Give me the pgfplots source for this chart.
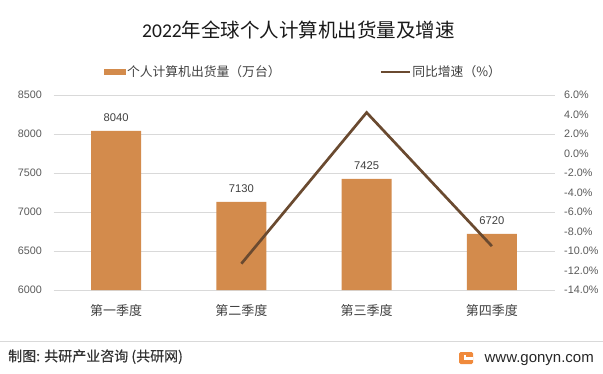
\documentclass[border=0pt]{standalone}
\usepackage{pgfplots}
\pgfplotsset{compat=1.18}
\usepackage{fontspec}
\setmainfont{Liberation Sans}
\newfontfamily\cjk{Noto Sans CJK SC}
\newfontfamily\cjkb[FakeBold=0.3]{Noto Sans CJK SC}
\newfontfamily\calfont{Carlito}
\definecolor{barc}{HTML}{D38B4C}
\definecolor{linec}{HTML}{6A4A30}
\definecolor{gridc}{HTML}{D9D9D9}
\definecolor{tickc}{HTML}{595959}
\definecolor{labc}{HTML}{404040}
\definecolor{logoc}{HTML}{F08A3C}
\begin{document}
\begin{tikzpicture}[x=1bp,y=1bp]
\path[use as bounding box] (0,0) rectangle (603,373);
\node[font=\fontsize{19.5bp}{23bp}\selectfont, text=black!90] at (298.5,343) {{\calfont 2022}{\cjk 年全球个人计算机出货量及增速}};
\begin{axis}[
  at={(53.5bp,83bp)}, anchor=south west, scale only axis,
  width=501bp, height=195bp,
  xmin=-0.5, xmax=3.5, ymin=6000, ymax=8500,
  ytick={6000,6500,7000,7500,8000,8500},
  yticklabels={6000,6500,7000,7500,8000,8500},
  xtick={0,1,2,3},
  xticklabels={第一季度,第二季度,第三季度,第四季度},
  axis line style={draw=none},
  major tick length=0pt,
  ymajorgrids, grid style={gridc, line width=0.9bp},
  yticklabel style={font=\fontsize{10.8bp}{12bp}\selectfont, text=tickc, inner sep=0pt, anchor=east, xshift=-11.5bp},
  xticklabel style={font=\cjk\fontsize{13bp}{15bp}\selectfont, text=labc, inner sep=0pt, anchor=north, yshift=-14.8bp},
  /pgf/number format/1000 sep={},
  /pgf/number format/assume math mode=true,
  legend columns=2,
  legend style={at={(0.1008,1.118)}, anchor=west, draw=none, fill=none, inner sep=0pt, outer sep=0pt,
    nodes={inner sep=1bp}, font=\cjk\fontsize{12.8bp}{14bp}\selectfont, text=labc,
    /tikz/every even column/.append style={column sep=98bp}},
]
\addplot[ybar, bar width=50bp, fill=barc, draw=none,
  nodes near coords, point meta=y,
  every node near coord/.append style={font=\fontsize{11.2bp}{12bp}\selectfont, text=labc, inner sep=0pt, anchor=south, yshift=9.5bp},
  legend image code/.code={\fill[barc] (0bp,-3.25bp) rectangle (22bp,3.25bp);}]
  coordinates {(0,8040) (1,7130) (2,7425) (3,6720)};
\addlegendentry{个人计算机出货量（万台）}
\addlegendimage{legend image code/.code={\draw[linec, line width=2.7bp] (0bp,0bp) -- (29bp,0bp);}}
\addlegendentry{同比增速（\%）}
\end{axis}
\begin{axis}[
  at={(53.5bp,83bp)}, anchor=south west, scale only axis,
  width=501bp, height=195bp,
  xmin=-0.5, xmax=3.5, ymin=-14, ymax=6,
  ytick={-14,-12,-10,-8,-6,-4,-2,0,2,4,6},
  yticklabels={-14.0\%,-12.0\%,-10.0\%,-8.0\%,-6.0\%,-4.0\%,-2.0\%,0.0\%,2.0\%,4.0\%,6.0\%},
  xtick=\empty,
  axis line style={draw=none},
  major tick length=0pt,
  ytick pos=right, yticklabel pos=right,
  yticklabel style={font=\fontsize{10.8bp}{12bp}\selectfont, text=tickc, inner sep=0pt, anchor=west, xshift=9.5bp},
]
\addplot[linec, line width=2.7bp, mark=none] coordinates {(1,-11.3) (2,4.2) (3,-9.5)};
\end{axis}
\draw[gridc, line width=0.8bp] (0,32) -- (603,32);
\node[anchor=west, inner sep=0pt, font=\cjkb\fontsize{14bp}{16bp}\selectfont, text=black!80] at (8,16.3) {制图: 共研产业咨询 (共研网)};
\fill[logoc, rounded corners=1.5bp] (459,9) rectangle (473,21);
\fill[white] (464,13.5) rectangle (473,16.5);
\fill[white] (464,16.5) rectangle (466,18);
\node[anchor=base east, inner sep=0pt, font=\fontsize{15bp}{17bp}\selectfont, text=black!85] at (594,10.9) {www.gonyn.com};
\end{tikzpicture}
\end{document}
